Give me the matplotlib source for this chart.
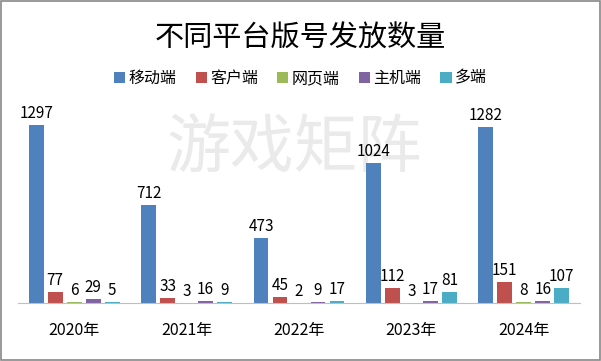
import matplotlib.pyplot as plt
import numpy as np

plt.rcParams['font.family'] = ['Noto Sans CJK SC', 'DejaVu Sans']

years = ["2020年", "2021年", "2022年", "2023年", "2024年"]
series = ["移动端", "客户端", "网页端", "主机端", "多端"]
mobile = [1297, 712, 473, 1024, 1282]
client = [77, 33, 45, 112, 151]
web = [6, 3, 2, 3, 8]
console = [29, 16, 9, 17, 16]
multi = [5, 9, 17, 81, 107]
colors = ["#4F81BD", "#C0504D", "#9BBB59", "#8064A2", "#4BACC6"]

values = [mobile, client, web, console, multi]

fig = plt.figure(figsize=(6.01, 3.61), dpi=100)

# watermark, behind the plot
fig.text(0.49, 0.585, "游戏矩阵", fontsize=46, color="#EAEAEA",
         ha="center", va="center", zorder=0)

ax = fig.add_axes([18 / 601, 58 / 361, 562 / 601, 192 / 361])
ax.set_zorder(1)
ax.patch.set_visible(False)

x = np.arange(len(years))
step = 0.169
width = 0.133
for i, (name, vals) in enumerate(zip(series, values)):
    pos = x + (i - 2) * step
    ax.bar(pos, vals, width, color=colors[i], label=name)
    for p, v in zip(pos, vals):
        ax.text(p, v + 22, str(v), ha="center", va="bottom", fontsize=11)

ax.set_xlim(-0.5, len(years) - 0.5)
ax.set_ylim(0, 1400)
ax.set_yticks([])
ax.set_xticks(x)
ax.set_xticklabels(years, fontsize=11.5)
ax.tick_params(axis="x", length=0, pad=14)
for s in ["top", "right", "left"]:
    ax.spines[s].set_visible(False)
ax.spines["bottom"].set_color("#BFBFBF")

fig.text(0.5, 0.893, "不同平台版号发放数量", fontsize=21, ha="center", va="center")

fig.legend(loc="center", bbox_to_anchor=(0.5, 0.783), ncol=5, frameon=False,
           fontsize=11.5, handlelength=0.7, handleheight=0.7, handletextpad=0.2,
           columnspacing=1.2)

border = plt.Rectangle((0.001, 0.002), 0.997, 0.996, transform=fig.transFigure,
                       fill=False, edgecolor="#888888", linewidth=1.2)
fig.patches.append(border)

fig.savefig("out.png", dpi=100)
